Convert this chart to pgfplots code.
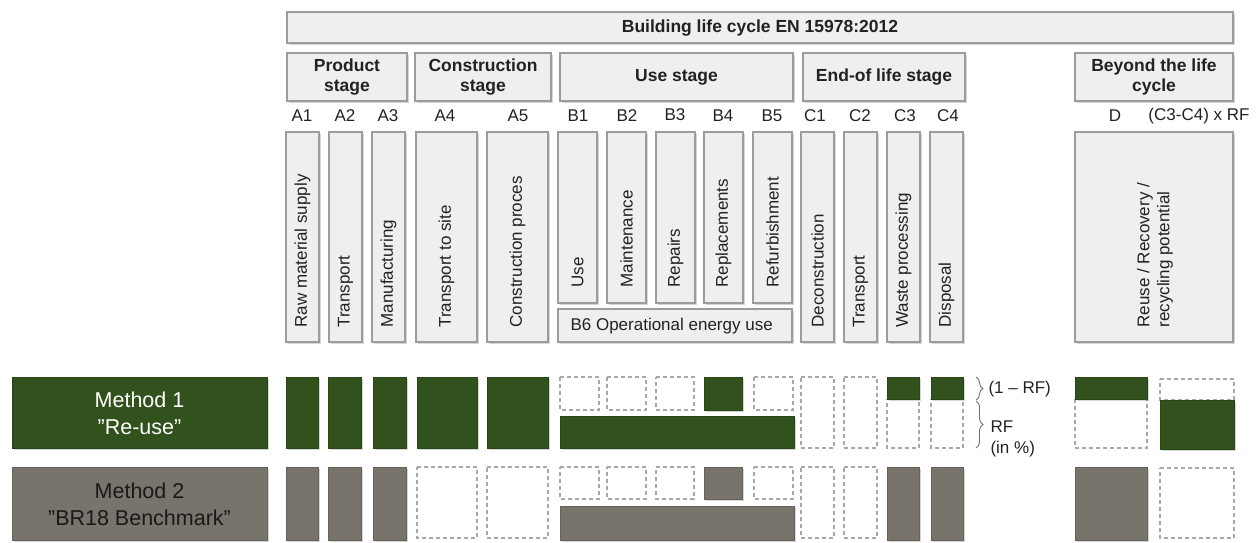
\documentclass[border=0pt]{standalone}
\usepackage{fontspec}
\setmainfont{Liberation Sans}
\usepackage{pgfplots}
\pgfplotsset{compat=1.18}
\usetikzlibrary{decorations.pathreplacing}
\definecolor{grn}{HTML}{31521C}
\definecolor{gry}{HTML}{78736B}
\definecolor{boxf}{HTML}{EFEFEF}
\definecolor{boxd}{HTML}{9C9C9C}
\definecolor{dsh}{HTML}{A8A8A8}
\definecolor{txt}{HTML}{222222}
\tikzset{
 lbox/.style={fill=boxf, draw=boxd, line width=1.2pt},
 gbox/.style={fill=grn, draw=grn!85!black, line width=0.6pt},
 tbox/.style={fill=gry, draw=gry!85!black, line width=0.6pt},
 dbox/.style={fill=white, draw=dsh, line width=1.3pt, dash pattern=on 4pt off 3pt},
 shd/.style={fill=black, fill opacity=0.16, draw=none, xshift=1.5pt, yshift=-2pt},
 fs/.style={font=\fontsize{17}{20}\selectfont, text=txt},
 fb/.style={font=\fontsize{17.5}{20.5}\selectfont\bfseries, text=txt, align=center},
 rl/.style={fs, rotate=90, anchor=west},
}
\newcommand\rectP[5]{\addplot[#5] coordinates {(#1,#2) (#3,#2) (#3,#4) (#1,#4)} -- cycle;}
\newcommand\boxS[4]{\rectP{#1}{#2}{#3}{#4}{shd}}
\newcommand\boxL[4]{\boxS{#1}{#2}{#3}{#4}\rectP{#1}{#2}{#3}{#4}{lbox}}
\newcommand\boxG[4]{\boxS{#1}{#2}{#3}{#4}\rectP{#1}{#2}{#3}{#4}{gbox}}
\newcommand\boxT[4]{\boxS{#1}{#2}{#3}{#4}\rectP{#1}{#2}{#3}{#4}{tbox}}
\newcommand\boxD[4]{\rectP{#1}{#2}{#3}{#4}{dbox}}
\begin{document}
\begin{tikzpicture}
\begin{axis}[
  scale only axis, width=1258pt, height=540pt,
  xmin=0, xmax=1258, ymin=0, ymax=540, y dir=reverse,
  hide axis, clip=false,
]
\addplot[draw=none] coordinates {(0,0) (1258,540)};
% ---- header boxes
\boxL{287}{12}{1233}{43}
\boxL{287}{53}{407}{101}
\boxL{415}{53}{551}{101}
\boxL{560}{53}{793}{101}
\boxL{803}{53}{965}{101}
\boxL{1075}{53}{1233}{101}
\node[fb] at (axis cs:760,28) {Building life cycle EN 15978:2012};
\node[fb] at (axis cs:347,77) {Product\\stage};
\node[fb] at (axis cs:483,77) {Construction\\stage};
\node[fb] at (axis cs:676.5,77) {Use stage};
\node[fb] at (axis cs:884,77) {End-of life stage};
\node[fb] at (axis cs:1154,77) {Beyond the life\\cycle};
% ---- module codes
\node[fs] at (axis cs:302,116) {A1};
\node[fs] at (axis cs:345,116) {A2};
\node[fs] at (axis cs:388,116) {A3};
\node[fs] at (axis cs:445,116) {A4};
\node[fs] at (axis cs:518,116) {A5};
\node[fs] at (axis cs:578,116) {B1};
\node[fs] at (axis cs:627,116) {B2};
\node[fs] at (axis cs:675,115) {B3};
\node[fs] at (axis cs:723,116) {B4};
\node[fs] at (axis cs:772,116) {B5};
\node[fs] at (axis cs:815,116) {C1};
\node[fs] at (axis cs:860,116) {C2};
\node[fs] at (axis cs:905,116) {C3};
\node[fs] at (axis cs:948,116) {C4};
\node[fs] at (axis cs:1115,116) {D};
\node[fs] at (axis cs:1199,116) {(C3-C4) x RF};
% ---- process boxes
\boxL{286}{132}{319}{342}
\boxL{329}{132}{362}{342}
\boxL{372}{132}{405}{342}
\boxL{416}{132}{477}{342}
\boxL{487}{132}{548}{342}
\boxL{558}{132}{597}{303}
\boxL{607}{132}{646}{303}
\boxL{656}{132}{695}{303}
\boxL{704}{132}{743}{303}
\boxL{753}{132}{792}{303}
\boxL{558}{309}{792}{342}
\boxL{801}{132}{834}{342}
\boxL{844}{132}{877}{342}
\boxL{887}{132}{920}{342}
\boxL{930}{132}{963}{342}
\boxL{1075}{132}{1233}{342}
\node[rl] at (axis cs:302.5,331) {Raw material supply};
\node[rl] at (axis cs:345.5,331) {Transport};
\node[rl] at (axis cs:388.5,331) {Manufacturing};
\node[rl] at (axis cs:446.5,331) {Transport to site};
\node[rl] at (axis cs:517.5,331) {Construction proces};
\node[rl] at (axis cs:577.5,291) {Use};
\node[rl] at (axis cs:626.5,291) {Maintenance};
\node[rl] at (axis cs:675.5,291) {Repairs};
\node[rl] at (axis cs:723.5,291) {Replacements};
\node[rl] at (axis cs:772.5,291) {Refurbishment};
\node[fs, anchor=west] at (axis cs:567,326) {B6 Operational energy use};
\node[rl] at (axis cs:817.5,331) {Deconstruction};
\node[rl] at (axis cs:860.5,331) {Transport};
\node[rl] at (axis cs:903.5,331) {Waste processing};
\node[rl] at (axis cs:946.5,331) {Disposal};
\node[rl, align=left] at (axis cs:1155,331) {Reuse / Recovery /\\recycling potential};
% ---- Method 1 row
\boxG{12}{377}{267}{448}
\node[font=\fontsize{21.5}{27}\selectfont, text=white, align=center] at (axis cs:139.5,413) {Method 1\\”Re-use”};
\boxG{286}{377}{318}{448}
\boxG{328}{377}{361}{448}
\boxG{373}{377}{406}{448}
\boxG{417}{377}{477}{448}
\boxG{487}{377}{548}{448}
\boxD{560}{377}{599}{410}
\boxD{607}{377}{646}{410}
\boxD{656}{377}{694}{410}
\boxG{704}{377}{742}{410}
\boxD{754}{377}{793}{410}
\boxG{560}{416}{794}{448}
\boxD{801}{377}{834}{448}
\boxD{844}{377}{877}{448}
\boxD{887}{399}{919}{448}
\boxG{887}{377}{919}{399}
\boxD{931}{399}{963}{448}
\boxG{931}{377}{963}{399}
\boxD{1075}{399}{1147}{448}
\boxG{1075}{377}{1147}{399}
\boxD{1160}{379}{1234}{400}
\boxG{1160}{400}{1234}{449}
\draw[decorate, decoration={brace, amplitude=7pt}, draw=black!55, line width=0.9pt] (axis cs:976,377) -- (axis cs:976,400);
\draw[decorate, decoration={brace, amplitude=7pt}, draw=black!55, line width=0.9pt] (axis cs:976,401) -- (axis cs:976,448);
\node[fs, anchor=west] at (axis cs:985,389) {(1 – RF)};
\node[fs, anchor=west] at (axis cs:987,427) {RF};
\node[fs, anchor=west] at (axis cs:987,449) {(in \%)};
% ---- Method 2 row
\boxT{12}{467}{267}{540}
\node[font=\fontsize{21.5}{27}\selectfont, text=black!90, align=center] at (axis cs:139.5,504) {Method 2\\”BR18 Benchmark”};
\boxT{286}{467}{318}{540}
\boxT{328}{467}{361}{540}
\boxT{373}{467}{406}{540}
\boxD{417}{467}{477}{538}
\boxD{487}{467}{548}{538}
\boxD{560}{467}{599}{499}
\boxD{607}{467}{646}{499}
\boxD{656}{467}{694}{499}
\boxT{704}{467}{742}{499}
\boxD{754}{467}{793}{499}
\boxT{560}{506}{794}{540}
\boxD{801}{467}{834}{538}
\boxD{844}{467}{877}{538}
\boxT{887}{467}{919}{540}
\boxT{931}{467}{963}{540}
\boxT{1075}{467}{1147}{540}
\boxD{1160}{468}{1234}{538}
\end{axis}
\end{tikzpicture}
\end{document}
